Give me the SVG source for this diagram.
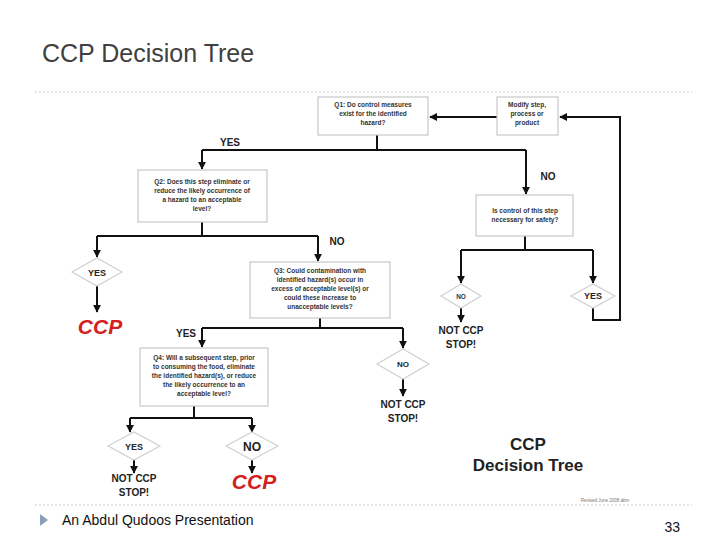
<svg xmlns="http://www.w3.org/2000/svg" width="728" height="546" viewBox="0 0 728 546">
<defs>
<marker id="ah" viewBox="0 0 10 10" refX="9" refY="5" markerWidth="4" markerHeight="4" orient="auto"><path d="M0,0 L10,5 L0,10 z" fill="#111"/></marker>
<style>
.box{fill:#fff;stroke:#c8c8c8;stroke-width:1.2}
.dia{fill:#fff;stroke:#d0d0d0;stroke-width:1.2}
.ln{fill:none;stroke:#111;stroke-width:2}
.ar{fill:none;stroke:#111;stroke-width:2;marker-end:url(#ah)}
.t{font-family:"Liberation Sans",Arial,sans-serif;font-size:6.5px;font-weight:bold;fill:#333;text-anchor:middle}
.lb{font-family:"Liberation Sans",Arial,sans-serif;font-size:10px;font-weight:bold;fill:#222;text-anchor:middle}
.ccp{font-family:"Liberation Sans",Arial,sans-serif;font-size:21px;font-weight:bold;font-style:italic;fill:#d42020;text-anchor:middle}
</style>
</defs>
<rect width="728" height="546" fill="#fff"/>
<text x="42" y="62" font-family="Liberation Sans,Arial,sans-serif" font-size="25" fill="#404040">CCP Decision Tree</text>
<line x1="35" y1="92" x2="692" y2="92" stroke="#ccc" stroke-dasharray="2,2"/>
<line x1="35" y1="505" x2="692" y2="505" stroke="#ccc" stroke-dasharray="2,2"/>
<path d="M40,514 L48,520 L40,526 z" fill="#8aa0b8"/>
<text x="62" y="525" font-family="Liberation Sans,Arial,sans-serif" font-size="14" fill="#111">An Abdul Qudoos Presentation</text>
<text x="680" y="532" text-anchor="end" font-family="Liberation Sans,Arial,sans-serif" font-size="14" fill="#111">33</text>
<g id="connectors">
<line class="ar" x1="497" y1="117" x2="430" y2="117"/>
<polyline class="ar" points="593,308 593,320 620,320 620,117 560,117"/>
<line class="ln" x1="377" y1="135" x2="377" y2="150"/>
<line class="ln" x1="202" y1="150" x2="526" y2="150"/>
<line class="ar" x1="202" y1="150" x2="202" y2="169"/>
<line class="ar" x1="526" y1="150" x2="526" y2="194"/>
<line class="ln" x1="202" y1="222" x2="202" y2="236"/>
<line class="ln" x1="97" y1="236" x2="318" y2="236"/>
<line class="ar" x1="97" y1="236" x2="97" y2="257"/>
<line class="ar" x1="318" y1="236" x2="318" y2="261"/>
<line class="ar" x1="97" y1="286" x2="97" y2="312"/>
<line class="ln" x1="525" y1="236" x2="525" y2="250"/>
<line class="ln" x1="461" y1="250" x2="593" y2="250"/>
<line class="ar" x1="461" y1="250" x2="461" y2="283"/>
<line class="ar" x1="593" y1="250" x2="593" y2="283"/>
<line class="ar" x1="461" y1="308" x2="461" y2="322"/>
<line class="ln" x1="320" y1="318" x2="320" y2="328"/>
<line class="ln" x1="202" y1="328" x2="403" y2="328"/>
<line class="ar" x1="202" y1="328" x2="202" y2="347"/>
<line class="ar" x1="403" y1="328" x2="403" y2="348"/>
<line class="ar" x1="403" y1="379" x2="403" y2="396"/>
<line class="ln" x1="194" y1="406" x2="194" y2="418"/>
<line class="ln" x1="130" y1="418" x2="252" y2="418"/>
<line class="ar" x1="130" y1="418" x2="130" y2="432"/>
<line class="ar" x1="252" y1="418" x2="252" y2="432"/>
<line class="ar" x1="134" y1="460" x2="134" y2="473"/>
<line class="ar" x1="252" y1="460" x2="252" y2="473"/>
</g>
<text class="lb" x="230" y="146">YES</text>
<text class="lb" x="548" y="180">NO</text>
<text class="lb" x="337" y="245">NO</text>
<text class="lb" x="196" y="337" style="text-anchor:end">YES</text>
<g id="q1"><rect class="box" x="318" y="97" width="110" height="38"/>
<text class="t" x="373" y="107">Q1: Do control measures</text><text class="t" x="373" y="116">exist for the identified</text><text class="t" x="373" y="125">hazard?</text></g>
<g id="modify"><rect class="box" x="497" y="97" width="61" height="38"/>
<text class="t" x="527" y="107">Modify step,</text><text class="t" x="527" y="116">process or</text><text class="t" x="527" y="125">product</text></g>
<g id="q2"><rect class="box" x="138" y="170" width="129" height="52"/>
<text class="t" x="202" y="184">Q2: Does this step eliminate or</text><text class="t" x="202" y="193">reduce the likely occurrence of</text><text class="t" x="202" y="202">a hazard to an acceptable</text><text class="t" x="202" y="211">level?</text></g>
<g id="control"><rect class="box" x="476" y="195" width="97" height="41"/>
<text class="t" x="525" y="213">Is control of this step</text><text class="t" x="525" y="222">necessary for safety?</text></g>
<g id="q3"><rect class="box" x="250" y="262" width="140" height="56"/>
<text class="t" x="320" y="273">Q3: Could contamination with</text><text class="t" x="320" y="282">identified hazard(s) occur in</text><text class="t" x="320" y="291">excess of acceptable level(s) or</text><text class="t" x="320" y="300">could these increase to</text><text class="t" x="320" y="309">unacceptable levels?</text></g>
<g id="q4"><rect class="box" x="140" y="348" width="128" height="58"/>
<text class="t" x="204" y="360">Q4: Will a subsequent step, prior</text><text class="t" x="204" y="369">to consuming the food, eliminate</text><text class="t" x="204" y="378">the identified hazard(s), or reduce</text><text class="t" x="204" y="387">the likely occurrence to an</text><text class="t" x="204" y="396">acceptable level?</text></g>
<g id="yes1"><path class="dia" d="M72,272 L97,258 L122,272 L97,286 z"/><text class="lb" x="97" y="276" style="font-size:9px">YES</text>
<text class="ccp" x="100" y="334">CCP</text></g>
<g id="no1"><path class="dia" d="M441,296 L461,284 L481,296 L461,308 z"/><text class="t" x="461" y="299">NO</text>
<text class="lb" x="461" y="334">NOT CCP</text><text class="lb" x="461" y="348">STOP!</text></g>
<g id="yes2"><path class="dia" d="M571,296 L593,284 L615,296 L593,308 z"/><text class="lb" x="593" y="299" style="font-size:9px">YES</text></g>
<g id="no2"><path class="dia" d="M377,364 L403,349 L429,364 L403,379 z"/><text class="lb" x="403" y="367" style="font-size:8px">NO</text>
<text class="lb" x="403" y="408">NOT CCP</text><text class="lb" x="403" y="422">STOP!</text></g>
<g id="yes3"><path class="dia" d="M108,446 L134,432 L160,446 L134,460 z"/><text class="lb" x="134" y="450" style="font-size:9px">YES</text>
<text class="lb" x="134" y="482">NOT CCP</text><text class="lb" x="134" y="496">STOP!</text></g>
<g id="no3"><path class="dia" d="M226,446 L252,432 L278,446 L252,460 z"/><text class="lb" x="252" y="451" style="font-size:12px">NO</text>
<text class="ccp" x="254" y="489">CCP</text></g>
<g id="caption"><text class="lb" x="528" y="450" style="font-size:17px">CCP</text><text class="lb" x="528" y="471" style="font-size:17px">Decision Tree</text>
<text x="605" y="502" text-anchor="middle" font-family="Liberation Sans,Arial,sans-serif" font-size="4.5" fill="#777">Revised June 2008 abm</text></g>
</svg>
